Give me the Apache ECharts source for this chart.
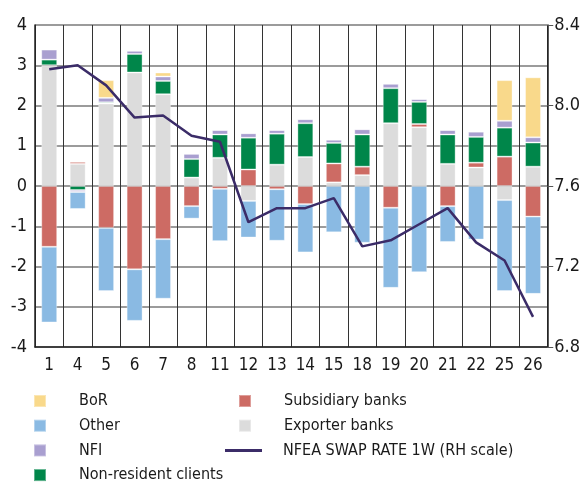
<!DOCTYPE html>
<html>
<head>
<meta charset="utf-8">
<script src="https://cdn.jsdelivr.net/npm/echarts@6/dist/echarts.min.js"></script>
<style>
html, body { margin: 0; padding: 0; background: #fff; }
#main { width: 583px; height: 486px; }
</style>
</head>
<body>
<div id="main"></div>
<script>
var days = ['1', '4', '5', '6', '7', '8', '11', '12', '13', '14', '15', '18', '19', '20', '21', '22', '25', '26'];
var exporterBanks = [3.00, 0.55, 2.05, 2.82, 2.28, 0.21, 0.70, -0.37, 0.53, 0.72, 0.09, 0.27, 1.56, 1.46, 0.55, 0.46, -0.35, 0.48];
var subsidiaryBanks = [-1.51, 0.05, -1.04, -2.07, -1.32, -0.50, -0.07, 0.41, -0.08, -0.45, 0.47, 0.21, -0.54, 0.08, -0.50, 0.12, 0.73, -0.76];
var nonResident = [0.14, -0.10, 0.03, 0.46, 0.33, 0.46, 0.58, 0.79, 0.77, 0.84, 0.51, 0.80, 0.87, 0.55, 0.73, 0.64, 0.72, 0.60];
var nfi = [0.25, -0.05, 0.11, 0.08, 0.11, 0.13, 0.11, 0.11, 0.09, 0.10, 0.08, 0.13, 0.11, 0.07, 0.11, 0.13, 0.17, 0.13];
var bor = [0, 0, 0.44, 0, 0.10, 0, 0, 0, 0, 0, 0, 0, 0, 0, 0, 0, 1.01, 1.49];
var other = [-1.88, -0.42, -1.57, -1.28, -1.48, -0.31, -1.30, -0.91, -1.28, -1.20, -1.15, -1.41, -1.99, -2.14, -0.89, -1.33, -2.26, -1.92];
var swapRate = [8.18, 8.20, 8.10, 7.94, 7.95, 7.85, 7.82, 7.42, 7.49, 7.49, 7.54, 7.30, 7.33, 7.41, 7.49, 7.32, 7.23, 6.95];

var font = '"DejaVu Sans Condensed", "Liberation Sans Narrow", sans-serif';

function barSeries(name, data, color) {
    return {
        name: name, type: 'bar', stack: 'flows', data: data,
        barWidth: '56%',
        itemStyle: { color: color, borderColor: 'rgba(255,255,255,0.35)', borderWidth: 1 }
    };
}

// one legend block per column piece, so nothing wraps at the bottom edge
function legendBlock(left, top, names, textPad, extra) {
    var l = {
        left: left, top: top, orient: 'vertical', padding: 0,
        icon: 'rect', itemWidth: 12, itemHeight: 12, itemGap: 4.7,
        textStyle: { fontFamily: font, fontSize: 16, color: '#1a1a1a', lineHeight: 20, padding: [0, 0, 0, textPad] },
        data: names
    };
    for (var k in extra) l[k] = extra[k];
    return l;
}

var chart = echarts.init(document.getElementById('main'));
chart.setOption({
    backgroundColor: '#fff',
    animation: false,
    grid: { left: 35, right: 30, top: 25, bottom: 139 },
    legend: [
        legendBlock(33, 391, ['BoR', 'Other'], 28),
        legendBlock(33, 440.4, ['NFI', 'Non-resident clients'], 28),
        legendBlock(238, 391, ['Subsidiary banks', 'Exporter banks'], 28),
        legendBlock(225, 440.4, ['NFEA SWAP RATE 1W (RH scale)'], 16, { itemWidth: 37, itemHeight: 3 })
    ],
    xAxis: {
        type: 'category', data: days,
        axisLine: { onZero: false, lineStyle: { color: '#222', width: 1.5 } },
        axisTick: { show: false },
        axisLabel: { fontFamily: font, fontSize: 17, color: '#1a1a1a', margin: 10 },
        splitLine: { show: true, interval: 0, lineStyle: { color: '#333', width: 1 } }
    },
    yAxis: [
        {
            type: 'value', min: -4, max: 4, interval: 1,
            axisLine: { show: true, lineStyle: { color: '#222', width: 1.5 } },
            axisTick: { show: false },
            axisLabel: { fontFamily: font, fontSize: 18, color: '#1a1a1a', margin: 8 },
            splitLine: { lineStyle: { color: '#7a7a7a', width: 1.5 } }
        },
        {
            type: 'value', min: 6.8, max: 8.4, interval: 0.4,
            axisLine: { show: true, lineStyle: { color: '#222', width: 1.5 } },
            axisTick: { show: true, length: 6, lineStyle: { color: '#555' } },
            axisLabel: { fontFamily: font, fontSize: 18, color: '#1a1a1a', margin: 7,
                formatter: function (v) { return v.toFixed(1); } },
            splitLine: { show: false }
        }
    ],
    series: [
        barSeries('Exporter banks', exporterBanks, '#dcdcdc'),
        barSeries('Subsidiary banks', subsidiaryBanks, '#cd6b64'),
        barSeries('Non-resident clients', nonResident, '#00864a'),
        barSeries('NFI', nfi, '#a99fd0'),
        barSeries('BoR', bor, '#f9d98b'),
        barSeries('Other', other, '#8abae3'),
        {
            name: 'NFEA SWAP RATE 1W (RH scale)', type: 'line', yAxisIndex: 1,
            data: swapRate, symbol: 'none',
            itemStyle: { color: '#3b2c68' },
            lineStyle: { color: '#3b2c68', width: 2.5 },
            z: 5
        }
    ]
});
</script>
</body>
</html>
